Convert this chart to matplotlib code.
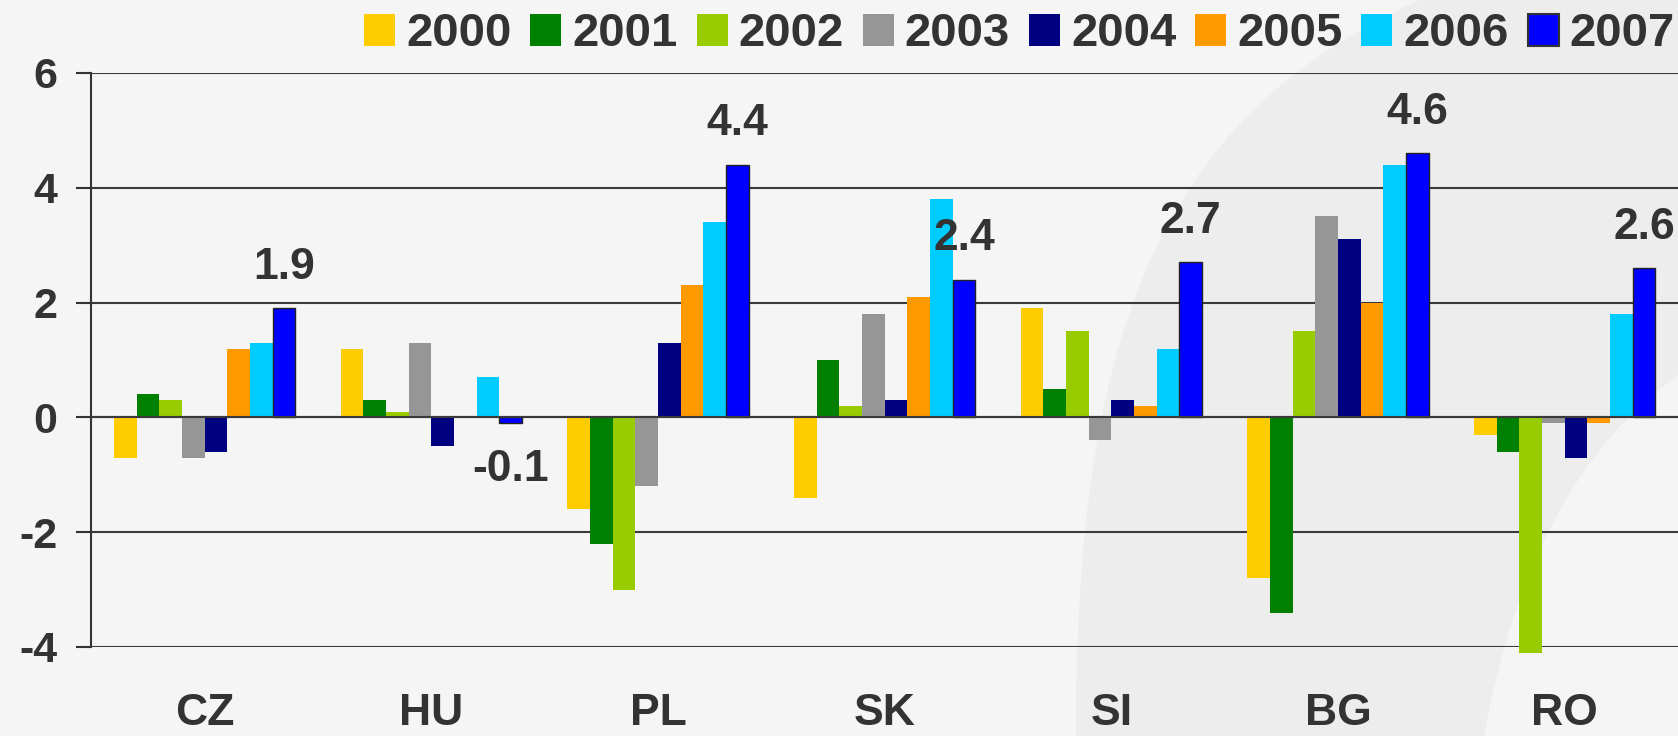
import matplotlib
matplotlib.use('Agg')
import matplotlib.pyplot as plt
import numpy as np
from matplotlib.patches import Patch, PathPatch
from matplotlib.path import Path

countries = ['CZ', 'HU', 'PL', 'SK', 'SI', 'BG', 'RO']
years = ['2000', '2001', '2002', '2003', '2004', '2005', '2006', '2007']
v2000 = [-0.7, 1.2, -1.6, -1.4, 1.9, -2.8, -0.3]
v2001 = [0.4, 0.3, -2.2, 1.0, 0.5, -3.4, -0.6]
v2002 = [0.3, 0.1, -3.0, 0.2, 1.5, 1.5, -4.1]
v2003 = [-0.7, 1.3, -1.2, 1.8, -0.4, 3.5, -0.1]
v2004 = [-0.6, -0.5, 1.3, 0.3, 0.3, 3.1, -0.7]
v2005 = [1.2, 0.0, 2.3, 2.1, 0.2, 2.0, -0.1]
v2006 = [1.3, 0.7, 3.4, 3.8, 1.2, 4.4, 1.8]
v2007 = [1.9, -0.1, 4.4, 2.4, 2.7, 4.6, 2.6]
series = [v2000, v2001, v2002, v2003, v2004, v2005, v2006, v2007]
colors = ['#FFCC00', '#008000', '#99CC00', '#969696', '#000080', '#FF9900', '#00CCFF', '#0000FF']
yticks = [-4, -2, 0, 2, 4, 6]

plt.rcParams['font.family'] = ['Liberation Sans', 'DejaVu Sans']
plt.rcParams['font.weight'] = 'bold'
TXT = '#333333'
W, H = 1678, 736

fig = plt.figure(figsize=(W / 100, H / 100), dpi=100, facecolor='#F5F5F5')

# subtle background swoosh band
def fx(x):
    return x / W
def fy(y):
    return 1 - y / H
verts = [(fx(1076), fy(736)), (fx(1076), fy(350)), (fx(1150), fy(120)), (fx(1420), fy(0)),
         (fx(1678), fy(0)), (fx(1678), fy(375)),
         (fx(1530), fy(480)), (fx(1484), fy(736)), (fx(1076), fy(736))]
codes = [Path.MOVETO, Path.CURVE4, Path.CURVE4, Path.CURVE4, Path.LINETO, Path.LINETO,
         Path.CURVE3, Path.CURVE3, Path.CLOSEPOLY]
band = PathPatch(Path(verts, codes), transform=fig.transFigure,
                 facecolor='#EDEDED', edgecolor='none', zorder=-10)
fig.patches.append(band)

ax = fig.add_axes([91.3 / W, 1 - 647 / H, 1 - 91.3 / W, (647 - 73) / H])
ax.set_facecolor('none')

x = np.arange(len(countries))
bw = 0.1
for i, (vals, c) in enumerate(zip(series, colors)):
    last = (i == len(series) - 1)
    bars = ax.bar(x + (i - 3.5) * bw, vals, width=bw, color=c,
                  edgecolor='#222222' if last else 'none',
                  linewidth=1.0 if last else 0, zorder=2, label=years[i])
    for b in bars:
        b.set_clip_on(False)

for xi, v in zip(x, v2007):
    off = 29.5 if v >= 0 else -33.5
    ax.annotate(f'{v:.1f}', xy=(xi + 3.5 * bw, v), xytext=(0, off),
                textcoords='offset points', ha='center', va='center',
                fontsize=32, fontweight='bold', color=TXT, zorder=5)

ax.set_xlim(-0.5, len(countries) - 0.5)
ax.set_ylim(-4, 6)
ax.set_yticks(yticks)
ax.set_yticklabels([str(t) for t in yticks])
ax.set_xticks(x)
ax.set_xticklabels(countries)
ax.tick_params(axis='y', length=10.5, width=1.5, color='#333333', pad=14,
               labelsize=31, labelcolor=TXT)
ax.tick_params(axis='x', length=0, pad=33, labelsize=32, labelcolor=TXT)
ax.yaxis.grid(True, color='#3a3a3a', linewidth=1.5, zorder=1)
ax.set_axisbelow(True)
ax.axhline(0, color='#3a3a3a', linewidth=1.5, zorder=3)
for s in ['top', 'right', 'bottom']:
    ax.spines[s].set_visible(False)
ax.spines['left'].set_color('#333333')
ax.spines['left'].set_linewidth(1.5)

handles = [Patch(facecolor=c, edgecolor='#333333' if i == 7 else 'none',
                 linewidth=1.5 if i == 7 else 0) for i, c in enumerate(colors)]
leg = fig.legend(handles, years, loc='center right', ncol=8,
                 bbox_to_anchor=(1675 / W, 1 - 34.5 / H), frameon=False,
                 fontsize=34, handlelength=0.657, handleheight=0.657,
                 handletextpad=0.233, columnspacing=0.40, borderpad=0,
                 borderaxespad=0)
for t in leg.get_texts():
    t.set_color(TXT)
    t.set_fontweight('bold')

fig.savefig('out.png', dpi=100, facecolor=fig.get_facecolor())
